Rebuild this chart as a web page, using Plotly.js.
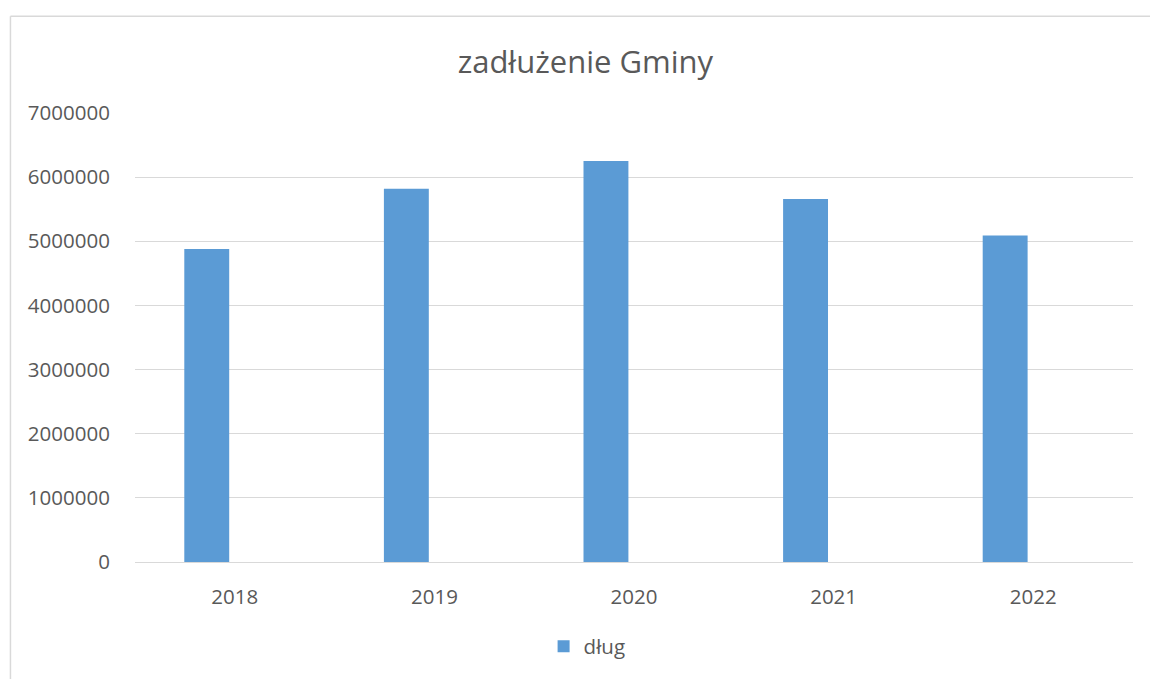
<!DOCTYPE html>
<html>
<head>
<meta charset="utf-8">
<script src="https://cdn.plot.ly/plotly-3.0.1.min.js"></script>
<style>
html,body{margin:0;padding:0;background:#fff;}
#chart{width:1150px;height:679px;}
</style>
</head>
<body>
<div id="chart"></div>
<script>
const years = ['2018', '2019', '2020', '2021', '2022'];
const dlug = [4880000, 5820000, 6250000, 5660000, 5090000];
const yTicks = [0, 1000000, 2000000, 3000000, 4000000, 5000000, 6000000, 7000000];
const seriesName = 'dług';
const chartTitle = 'zadłużenie Gminy';

const fontFam = '"Open Sans", "Noto Sans", sans-serif';
const txtColor = '#595959';

const trace = {
  type: 'bar',
  x: years,
  y: dlug,
  name: seriesName,
  marker: {color: '#5b9bd5', line: {width: 0}},
  width: 0.225,
  offset: -0.253,
  showlegend: true,
  hoverinfo: 'x+y'
};

const layout = {
  width: 1150,
  height: 679,
  paper_bgcolor: '#ffffff',
  plot_bgcolor: '#ffffff',
  margin: {l: 135, r: 17, t: 113, b: 115},
  font: {family: fontFam, color: txtColor, size: 20.5},
  title: {
    text: chartTitle,
    font: {family: fontFam, size: 31, color: txtColor},
    xref: 'container', yref: 'container',
    x: 0.509, xanchor: 'center',
    y: 0.909, yanchor: 'middle'
  },
  showlegend: true,
  legend: {
    orientation: 'h',
    x: 0.453, xanchor: 'center',
    y: -0.188, yanchor: 'middle',
    font: {family: fontFam, size: 20.5, color: txtColor},
    itemwidth: 30
  },
  xaxis: {
    type: 'category',
    showgrid: false,
    showline: true,
    linecolor: '#d9d9d9',
    linewidth: 1,
    ticks: 'outside',
    ticklen: 16,
    tickcolor: 'rgba(0,0,0,0)',
    tickfont: {family: fontFam, size: 20.5, color: txtColor},
    fixedrange: true
  },
  yaxis: {
    range: [0, 7000000],
    tickvals: yTicks,
    tickformat: 'd',
    showgrid: true,
    gridcolor: '#d9d9d9',
    gridwidth: 1,
    zeroline: false,
    showline: false,
    ticks: 'outside',
    ticklen: 20,
    tickcolor: 'rgba(0,0,0,0)',
    tickfont: {family: fontFam, size: 20.5, color: txtColor},
    fixedrange: true
  },
  shapes: [
    {type: 'line', xref: 'paper', yref: 'paper', x0: -0.1248, x1: -0.1248, y0: 1.2155, y1: -0.3, line: {color: '#d9d9d9', width: 1.5}},
    {type: 'line', xref: 'paper', yref: 'paper', x0: -0.1248, x1: 1.1, y0: 1.2155, y1: 1.2155, line: {color: '#d9d9d9', width: 1.5}}
  ]
};

Plotly.newPlot('chart', [trace], layout, {displayModeBar: false, staticPlot: true});
</script>
</body>
</html>
